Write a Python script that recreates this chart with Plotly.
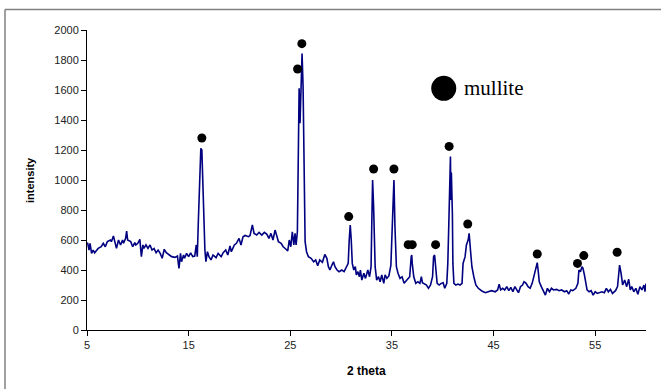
import plotly.graph_objects as go

# XRD pattern (2 theta, intensity)
two_theta = [
    5.0, 5.07, 5.2, 5.3, 5.45, 5.6, 5.75, 6.1, 6.4, 6.6, 6.8, 7.0, 7.3, 7.4, 7.6, 7.8, 7.9,
    8.1, 8.3, 8.5, 8.6, 8.8, 8.9, 9.0, 9.3, 9.5, 9.7, 9.8, 10.0, 10.2, 10.35, 10.5, 10.6,
    10.8, 11.0, 11.2, 11.4, 11.6, 11.8, 12.0, 12.2, 12.4, 12.6, 12.8, 13.0,
    13.33, 13.66, 13.9, 14.05, 14.2, 14.3, 14.5, 14.6, 14.8, 15.0, 15.2, 15.4, 15.6, 15.75,
    15.85, 15.96, 16.1, 16.2, 16.3, 16.4, 16.5, 16.6, 16.7, 16.85, 17.0, 17.2, 17.4, 17.7,
    17.9, 18.2, 18.4, 18.65, 18.85, 19.07, 19.2, 19.5, 19.7, 19.96, 20.15, 20.35, 20.55,
    20.9, 21.04, 21.27, 21.44, 21.7, 21.93, 22.2, 22.45, 22.7, 22.9, 23.1, 23.3, 23.5, 23.7,
    23.83, 24.1, 24.3, 24.56, 24.75, 24.9, 25.05, 25.2, 25.35, 25.47, 25.57, 25.7, 25.77,
    25.87, 25.96, 26.06, 26.16, 26.26, 26.36, 26.46, 26.6, 26.78, 27.05, 27.3, 27.5, 27.7,
    27.9, 28.16, 28.4, 28.6, 28.75, 28.9, 29.1, 29.25, 29.4, 29.6, 29.8, 30.07, 30.3, 30.56,
    30.7, 30.8, 30.9, 31.0, 31.1, 31.25, 31.4, 31.5, 31.65, 31.8, 31.9, 32.04, 32.24, 32.4,
    32.63, 32.8, 32.95, 33.02, 33.1, 33.2, 33.3, 33.35, 33.5, 33.68, 33.84, 34.0, 34.2,
    34.33, 34.5, 34.7, 34.9, 35.05, 35.2, 35.3, 35.44, 35.6, 35.8, 36.0, 36.2, 36.47, 36.6,
    36.75, 36.9, 36.95, 37.0, 37.15, 37.35, 37.55, 37.75, 37.9, 38.0, 38.2, 38.4, 38.6,
    38.8, 39.0, 39.1, 39.2, 39.3, 39.45, 39.65, 39.85, 40.04, 40.2, 40.4, 40.5, 40.6, 40.7,
    40.76, 40.8, 40.85, 40.95, 41.0, 41.1, 41.3, 41.5, 41.7, 41.9, 42.0, 42.2, 42.33, 42.5,
    42.6, 42.73, 42.87, 43.06, 43.26, 43.5, 43.85, 44.2, 44.5, 44.8, 45.16, 45.4, 45.55,
    45.7, 45.9, 46.1, 46.3, 46.5, 46.7, 46.9, 47.1, 47.3, 47.45, 47.65, 47.85, 48.0, 48.2,
    48.4, 48.6, 48.8, 49.0, 49.15, 49.3, 49.4, 49.5, 49.7, 49.9, 50.1, 50.3, 50.5, 50.7,
    50.9, 51.2, 51.45, 51.7, 51.98, 52.2, 52.4, 52.6, 52.8, 53.1, 53.3, 53.4, 53.55, 53.7,
    53.8, 53.94, 54.08, 54.2, 54.4, 54.6, 54.8, 55.0, 55.2, 55.4, 55.66, 55.9, 56.1, 56.3,
    56.5, 56.7, 57.0, 57.2, 57.3, 57.4, 57.55, 57.7, 57.9, 58.1, 58.3, 58.45, 58.6, 58.8,
    59.0, 59.2, 59.4, 59.6, 59.8, 59.9, 60.0,
]
intensity = [
    580, 578, 533, 578, 511, 533, 515, 544, 555, 578, 555, 589, 600, 589, 627, 578, 544,
    600, 567, 600, 578, 611, 660, 600, 589, 555, 582, 567, 578, 604, 489, 567, 544,
    567, 544, 567, 533, 544, 515, 533, 511, 478, 538, 515, 507,
    489, 484, 493, 411, 511, 455, 500, 478, 511, 489, 515, 489, 493, 567,
    489, 733, 1044, 1211, 1200, 978, 611, 533, 455, 522, 489, 467, 500, 482,
    511, 489, 515, 533, 500, 560, 522, 567, 578, 611, 567, 622, 630,
    622, 629, 700, 644, 633, 651, 633, 651, 638, 611, 644, 600, 666, 622,
    589, 578, 555, 540, 527, 600, 555, 655, 567, 644, 567, 655, 1222,
    1611, 1378, 1611, 1844, 1622, 1011, 589, 522, 489, 478, 455, 467, 429,
    467, 451, 504, 478, 422, 400, 433, 455, 422, 400, 389, 400, 389, 422,
    444, 600, 700, 600, 444, 400, 422, 367, 389, 355, 400, 333, 378, 344,
    400, 355, 422, 711, 1000, 822, 578, 422, 333, 355, 322, 367, 311,
    367, 344, 360, 433, 689, 1000, 689, 422, 378, 344, 355, 311, 333, 344,
    355, 489, 500, 444, 355, 311, 322, 311, 355, 315, 306, 300, 278,
    300, 355, 489, 500, 422, 311, 300, 311, 315, 278, 311, 444, 711, 1000,
    1156, 867, 1050, 778, 444, 311, 300, 306, 300, 311, 444, 489, 567, 600,
    644, 533, 422, 355, 300, 278, 260, 249, 255, 262, 255, 267, 306,
    267, 278, 267, 289, 262, 284, 255, 289, 267, 249, 289, 300, 322, 311,
    289, 278, 311, 367, 400, 449, 389, 322, 289, 255, 233, 278, 255, 278,
    267, 271, 262, 267, 255, 262, 240, 267, 262, 278, 311, 400, 389, 422,
    411, 367, 300, 267, 255, 262, 233, 255, 244, 249, 255, 249, 278, 255,
    271, 244, 262, 289, 367, 433, 378, 300, 333, 289, 338, 267, 289, 255,
    278, 238, 289, 267, 300, 255, 310,
]

# mullite peak markers
mark_theta = [16.3, 25.72, 26.14, 30.75, 33.2, 35.2, 36.6, 37.0, 39.3, 40.63, 42.46, 49.3, 53.26, 53.88, 57.16]
mark_int = [1280, 1740, 1909, 756, 1073, 1073, 569, 569, 569, 1224, 707, 507, 444, 496, 518]

legend_theta = [40.1]
legend_int = [1611]
legend_label = "mullite"

x_ticks = [5, 15, 25, 35, 45, 55]

fig = go.Figure()
fig.add_trace(go.Scatter(x=two_theta, y=intensity, mode="lines",
                         line=dict(color="#000080", width=1.6), showlegend=False,
                         hoverinfo="skip"))
fig.add_trace(go.Scatter(x=mark_theta, y=mark_int, mode="markers",
                         marker=dict(color="black", size=9), showlegend=False))
fig.add_trace(go.Scatter(x=legend_theta, y=legend_int, mode="markers",
                         marker=dict(color="black", size=25), showlegend=False))

fig.add_annotation(x=41.9, y=legend_int[0], xref="x", yref="y", text=legend_label,
                   showarrow=False, xanchor="left", yanchor="middle",
                   font=dict(family="Liberation Serif", size=21, color="black"))

fig.add_annotation(x=(30 - 87) / 559, y=0.5, xref="paper", yref="paper", text="<b>intensity</b>",
                   textangle=-90, showarrow=False, xanchor="center", yanchor="middle",
                   font=dict(family="Liberation Sans", size=11, color="black"))
fig.add_annotation(x=0.5, y=(330 - 371) / 300, xref="paper", yref="paper", text="<b>2 theta</b>",
                   showarrow=False, xanchor="center", yanchor="middle",
                   font=dict(family="Liberation Sans", size=12, color="black"))

# outer frame (left and top edges visible)
fig.add_shape(type="line", xref="paper", yref="paper",
              x0=(5 - 87) / 559, x1=(661 - 87) / 559 + 0.05, y0=(330 - 9.5) / 300, y1=(330 - 9.5) / 300,
              line=dict(color="#808080", width=1.5))
fig.add_shape(type="line", xref="paper", yref="paper",
              x0=(5 - 87) / 559, x1=(5 - 87) / 559, y0=(330 - 9.5) / 300, y1=(330 - 395) / 300,
              line=dict(color="#808080", width=1.5))

fig.update_layout(
    width=661, height=389,
    margin=dict(l=87, r=15, t=30, b=59),
    paper_bgcolor="white", plot_bgcolor="white",
    font=dict(family="Liberation Sans", size=11, color="#222222"),
    xaxis=dict(range=[5, 60], tickvals=x_ticks, showgrid=False, zeroline=False,
               showline=True, linecolor="black", linewidth=1, ticks="outside",
               ticklen=5, tickcolor="black", tickfont=dict(size=11)),
    yaxis=dict(range=[0, 2000], dtick=200, showgrid=False, zeroline=False,
               showline=True, linecolor="black", linewidth=1, ticks="outside",
               ticklen=5, tickcolor="black", tickfont=dict(size=11)),
)

fig.write_html("out.html", config={"displayModeBar": False},
               post_script="document.body.style.margin='0';document.body.style.overflow='hidden';")
